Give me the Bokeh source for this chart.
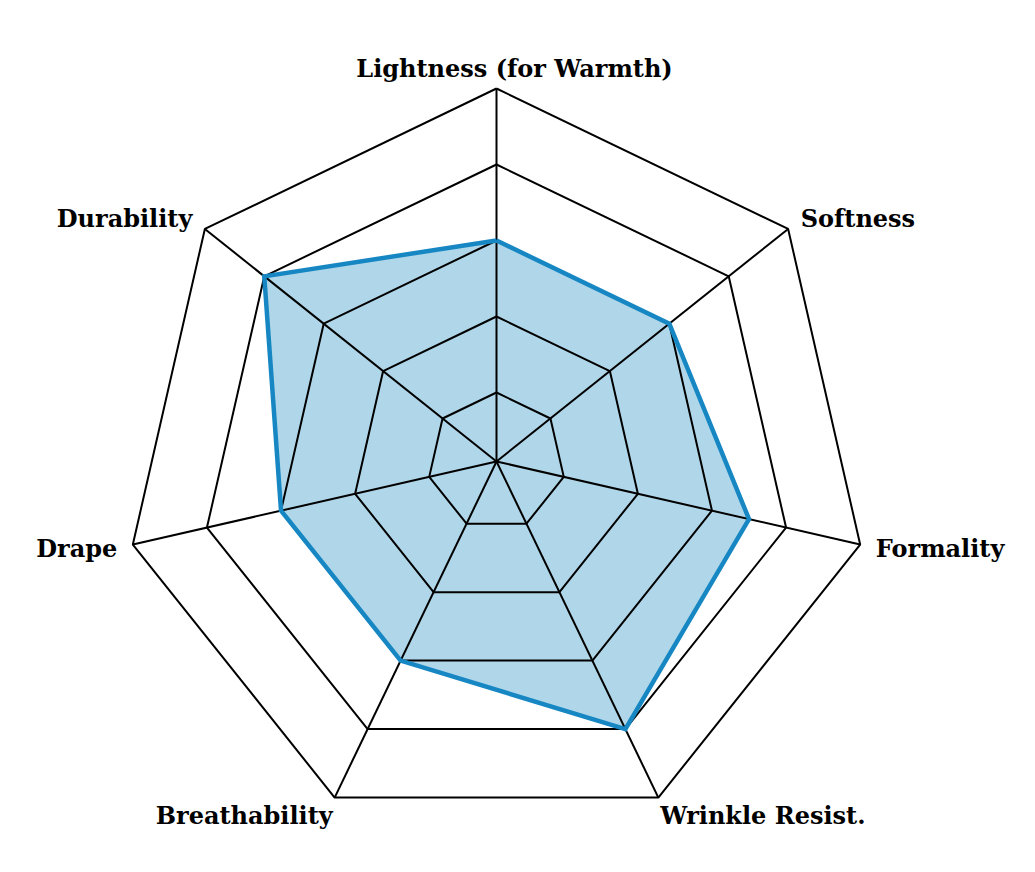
import numpy as np
from bokeh.plotting import figure
from bokeh.models import ColumnDataSource
from bokeh.core.properties import value
from bokeh.embed import file_html
from bokeh.resources import INLINE

# Fabric properties radar (scale 1-5)
categories = ["Lightness (for Warmth)", "Softness", "Formality", "Wrinkle Resist.",
              "Breathability", "Drape", "Durability"]
scores = [3, 3, 3.5, 4, 3, 3, 4]
levels = [1, 2, 3, 4, 5]

W, H = 1019, 856
PX = 76.0           # pixels per scale unit
OFFSET = 0.092      # small radial offset so ring 1 sits off the centre
CX, CY = 496, 461   # centre in figure pixels

n = len(categories)
angles = np.pi / 2 - 2 * np.pi * np.arange(n) / n


def rad(v):
    return v - OFFSET


p = figure(width=W, height=H, output_backend="svg", toolbar_location=None,
           x_range=(-CX / PX, (W - CX) / PX), y_range=(-(H - CY) / PX, CY / PX),
           min_border=0, match_aspect=False)
p.axis.visible = False
p.grid.visible = False
p.outline_line_color = None

# data polygon (fill first, grid on top)
xs = [rad(s) * np.cos(a) for s, a in zip(scores, angles)]
ys = [rad(s) * np.sin(a) for s, a in zip(scores, angles)]
p.patch(xs + [xs[0]], ys + [ys[0]], fill_color="#b0d7e9", line_color=None)

# rings
for lv in levels:
    rx = [rad(lv) * np.cos(a) for a in angles] + [rad(lv) * np.cos(angles[0])]
    ry = [rad(lv) * np.sin(a) for a in angles] + [rad(lv) * np.sin(angles[0])]
    p.line(rx, ry, line_color="black", line_width=2)

# spokes
rmax = rad(levels[-1])
for a in angles:
    p.line([0, rmax * np.cos(a)], [0, rmax * np.sin(a)], line_color="black", line_width=2)

# outline
p.line(xs + [xs[0]], ys + [ys[0]], line_color="#1787c3", line_width=4.5, line_join="miter")

# labels
lr = rmax + 16 / PX
lx, ly, al = [], [], []
for a in angles:
    c, s = np.cos(a), np.sin(a)
    if abs(c) < 0.01:
        lx.append(18 / PX)
        al.append("center")
        ly.append(lr * s + 4 / PX)
        continue
    lx.append(lr * c - (5 / PX * np.sign(c) if s < -0.5 else 0))
    al.append("left" if c > 0 else "right")
    ly.append(lr * s - (4 / PX if s < -0.5 else 0))
src = ColumnDataSource(dict(x=lx, y=ly, t=categories, al=al))
p.text(x="x", y="y", text="t", text_align="al", text_baseline="middle", source=src,
       text_font=value("DejaVu Serif"), text_font_style="bold", text_font_size="24px",
       text_color="black")

open("out.html", "w").write(file_html(p, INLINE))
